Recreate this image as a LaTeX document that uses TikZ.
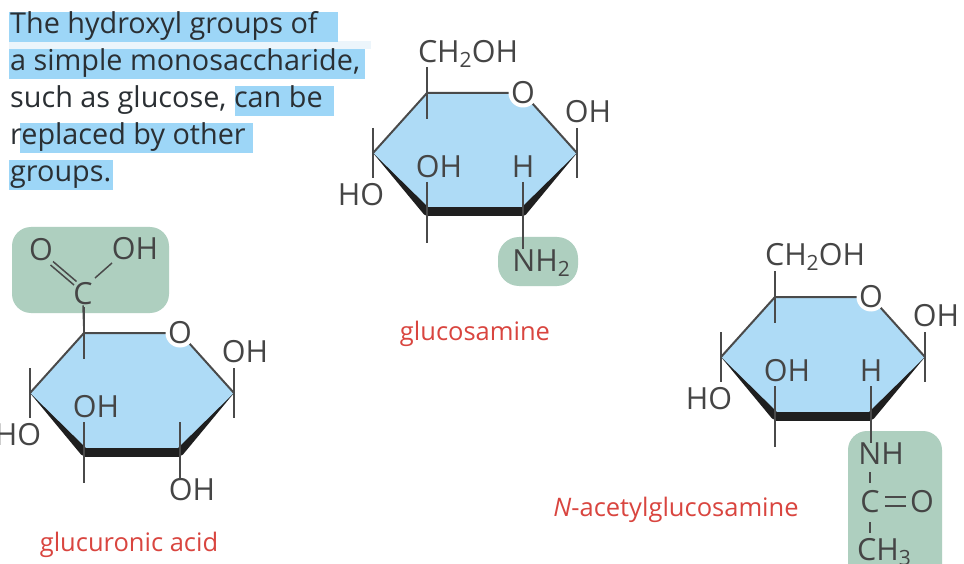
\documentclass[tikz,border=0pt]{standalone}
\usepackage{fontspec}
\setmainfont{Open Sans}
\usetikzlibrary{calc}
\definecolor{ringblue}{HTML}{AEDBF6}
\definecolor{hiblue}{HTML}{9DD6F7}
\definecolor{paleblue}{HTML}{ECF5FB}
\definecolor{groupgreen}{HTML}{AECFBF}
\definecolor{bondgray}{HTML}{4A4A4A}
\definecolor{labelgray}{HTML}{454545}
\definecolor{textdark}{HTML}{2A2F33}
\definecolor{namered}{HTML}{D9453F}
\newcommand{\chemsub}[1]{\raisebox{-5pt}{\fontsize{21}{21}\selectfont #1}}
\tikzset{
  x=1pt,y=-1pt,
  bond/.style={draw=bondgray,line width=2pt},
  thinbond/.style={draw=bondgray,line width=1.5pt},
  chem/.style={inner sep=0pt,text=labelgray,font=\fontsize{30.5}{30.5}\selectfont},
  prose/.style={inner sep=0pt,anchor=base west,text=textdark,font=\fontsize{28.8}{30}\selectfont},
  molname/.style={inner sep=0pt,text=namered,font=\fontsize{25.5}{27}\selectfont},
  hilite/.style={fill=hiblue,draw=none},
  groupbox/.style={fill=groupgreen,draw=none,rounded corners=19pt},
  ring/.pic={
    \coordinate (-tl) at (0,0);
    \coordinate (-o) at (96,0);
    \coordinate (-r) at (150,60);
    \coordinate (-br) at (96,119);
    \coordinate (-bl) at (0,119);
    \coordinate (-l) at (-54,60);
    \coordinate (-tlu) at (0,-26);
    \coordinate (-tld) at (0,26);
    \coordinate (-lu) at (-54,35);
    \coordinate (-ld) at (-54,85);
    \coordinate (-ru) at (150,35);
    \coordinate (-rd) at (150,85);
    \coordinate (-blu) at (0,89);
    \coordinate (-bld) at (0,150);
    \coordinate (-bru) at (96,89);
    \fill[ringblue] (-tl) -- (-o) -- (-r) -- (-br) -- (-bl) -- (-l) -- cycle;
    \draw[bond] (-l) -- (-tl) -- (-o);
    \draw[bond] (-o) -- (-r);
    \fill[white] (-o) circle (14.5);
    \fill[black!88] (-l) -- (3,116) -- (1,123.5) -- (-3,121.5) -- cycle;
    \fill[black!88] (-r) -- (93,116) -- (95,123.5) -- (99,121.5) -- cycle;
    \draw[black!88,line width=9pt] (-bl) -- (-br);
    \draw[thinbond] (-tlu) -- (-tld);
    \draw[thinbond] (-lu) -- (-ld);
    \draw[thinbond] (-ru) -- (-rd);
    \draw[thinbond] (-blu) -- (-bld);
    \draw[thinbond] (-bru) -- (-br);
    \node[chem] (-ol) at (96,0) {O};
    \node[chem] (-ohr) at (161,18.5) {OH};
    \node[chem] (-ohi) at (12,74) {OH};
    \node[chem] (-ho) at (-66,102) {HO};
  }
}
\begin{document}
\begin{tikzpicture}
\useasboundingbox (0,0) rectangle (964,564);
\clip (0,0) rectangle (964,564);
\fill[white] (0,0) rectangle (964,564);

% highlighted prose
\fill[paleblue] (9,41) rectangle (371,49);
\fill[hilite] (9,12) rectangle (338,42);
\fill[hilite] (9,49) rectangle (365,79);
\fill[hilite] (235,86) rectangle (334,116);
\fill[hilite] (20,123) rectangle (253,153);
\fill[hilite] (9,160) rectangle (113,190);
\node[prose] (line1) at (10,34) {The hydroxyl groups of};
\node[prose] (line2) at (10,71) {a simple monosaccharide,};
\node[prose] (line3) at (10,108) {such as glucose, can be};
\node[prose] (line4) at (10,145) {replaced by other};
\node[prose] (line5) at (10,182) {groups.};

% glucosamine
\fill[groupgreen,rounded corners=21pt] (498,237) rectangle (578,286);
\pic (gn) at (427,93) {ring};
\node[chem] (gnch) at (468,54) {CH\chemsub{2}OH};
\node[chem] (gnh) at (523,167) {H};
\node[chem] (gnnh) at (541,263) {NH\chemsub{2}};
\draw[thinbond] (gn-br) -- (gnnh.north -| gn-br);
\node[molname] (gnname) at (475,334) {glucosamine};

% glucuronic acid
\fill[groupbox] (12,227) rectangle (169,313);
\pic (ga) at (84,333) {ring};
\node[chem] (gac) at (83,294) {C};
\node[chem] (gao) at (41,250) {O};
\node[chem] (gaoh) at (135,249) {OH};
\node[chem] (gaoh2) at (192,490) {OH};
\draw[thinbond] (ga-tl) -- (gac.south);
\draw[thinbond] (50.5,265) -- (74,285);
\draw[thinbond] (53,261.5) -- (76.5,281.5);
\draw[thinbond] (112,263) -- (95,278);
\draw[thinbond] (ga-br) -- (gaoh2.north -| ga-br);
\node[molname] (ganame) at (129,545) {glucuronic acid};

% N-acetylglucosamine
\fill[groupbox] (848,431) rectangle (942,600);
\pic (na) at (775,297) {ring};
\node[chem] (nach) at (815,257) {CH\chemsub{2}OH};
\node[chem] (nah) at (871,371) {H};
\node[chem] (nanh) at (881,454) {NH};
\node[chem] (nacc) at (870,502) {C};
\node[chem] (naoo) at (922,502) {O};
\node[chem] (nach3) at (884,552) {CH\chemsub{3}};
\draw[thinbond] (na-br) -- (nanh.north -| na-br);
\draw[thinbond] (870,472) -- (870,483);
\draw[thinbond] (870,522) -- (870,533);
\draw[thinbond] (885,497) -- (906,497);
\draw[thinbond] (885,506) -- (906,506);
\node[molname] (naname) at (676,510) {\textit{N}-acetylglucosamine};
\end{tikzpicture}
\end{document}
